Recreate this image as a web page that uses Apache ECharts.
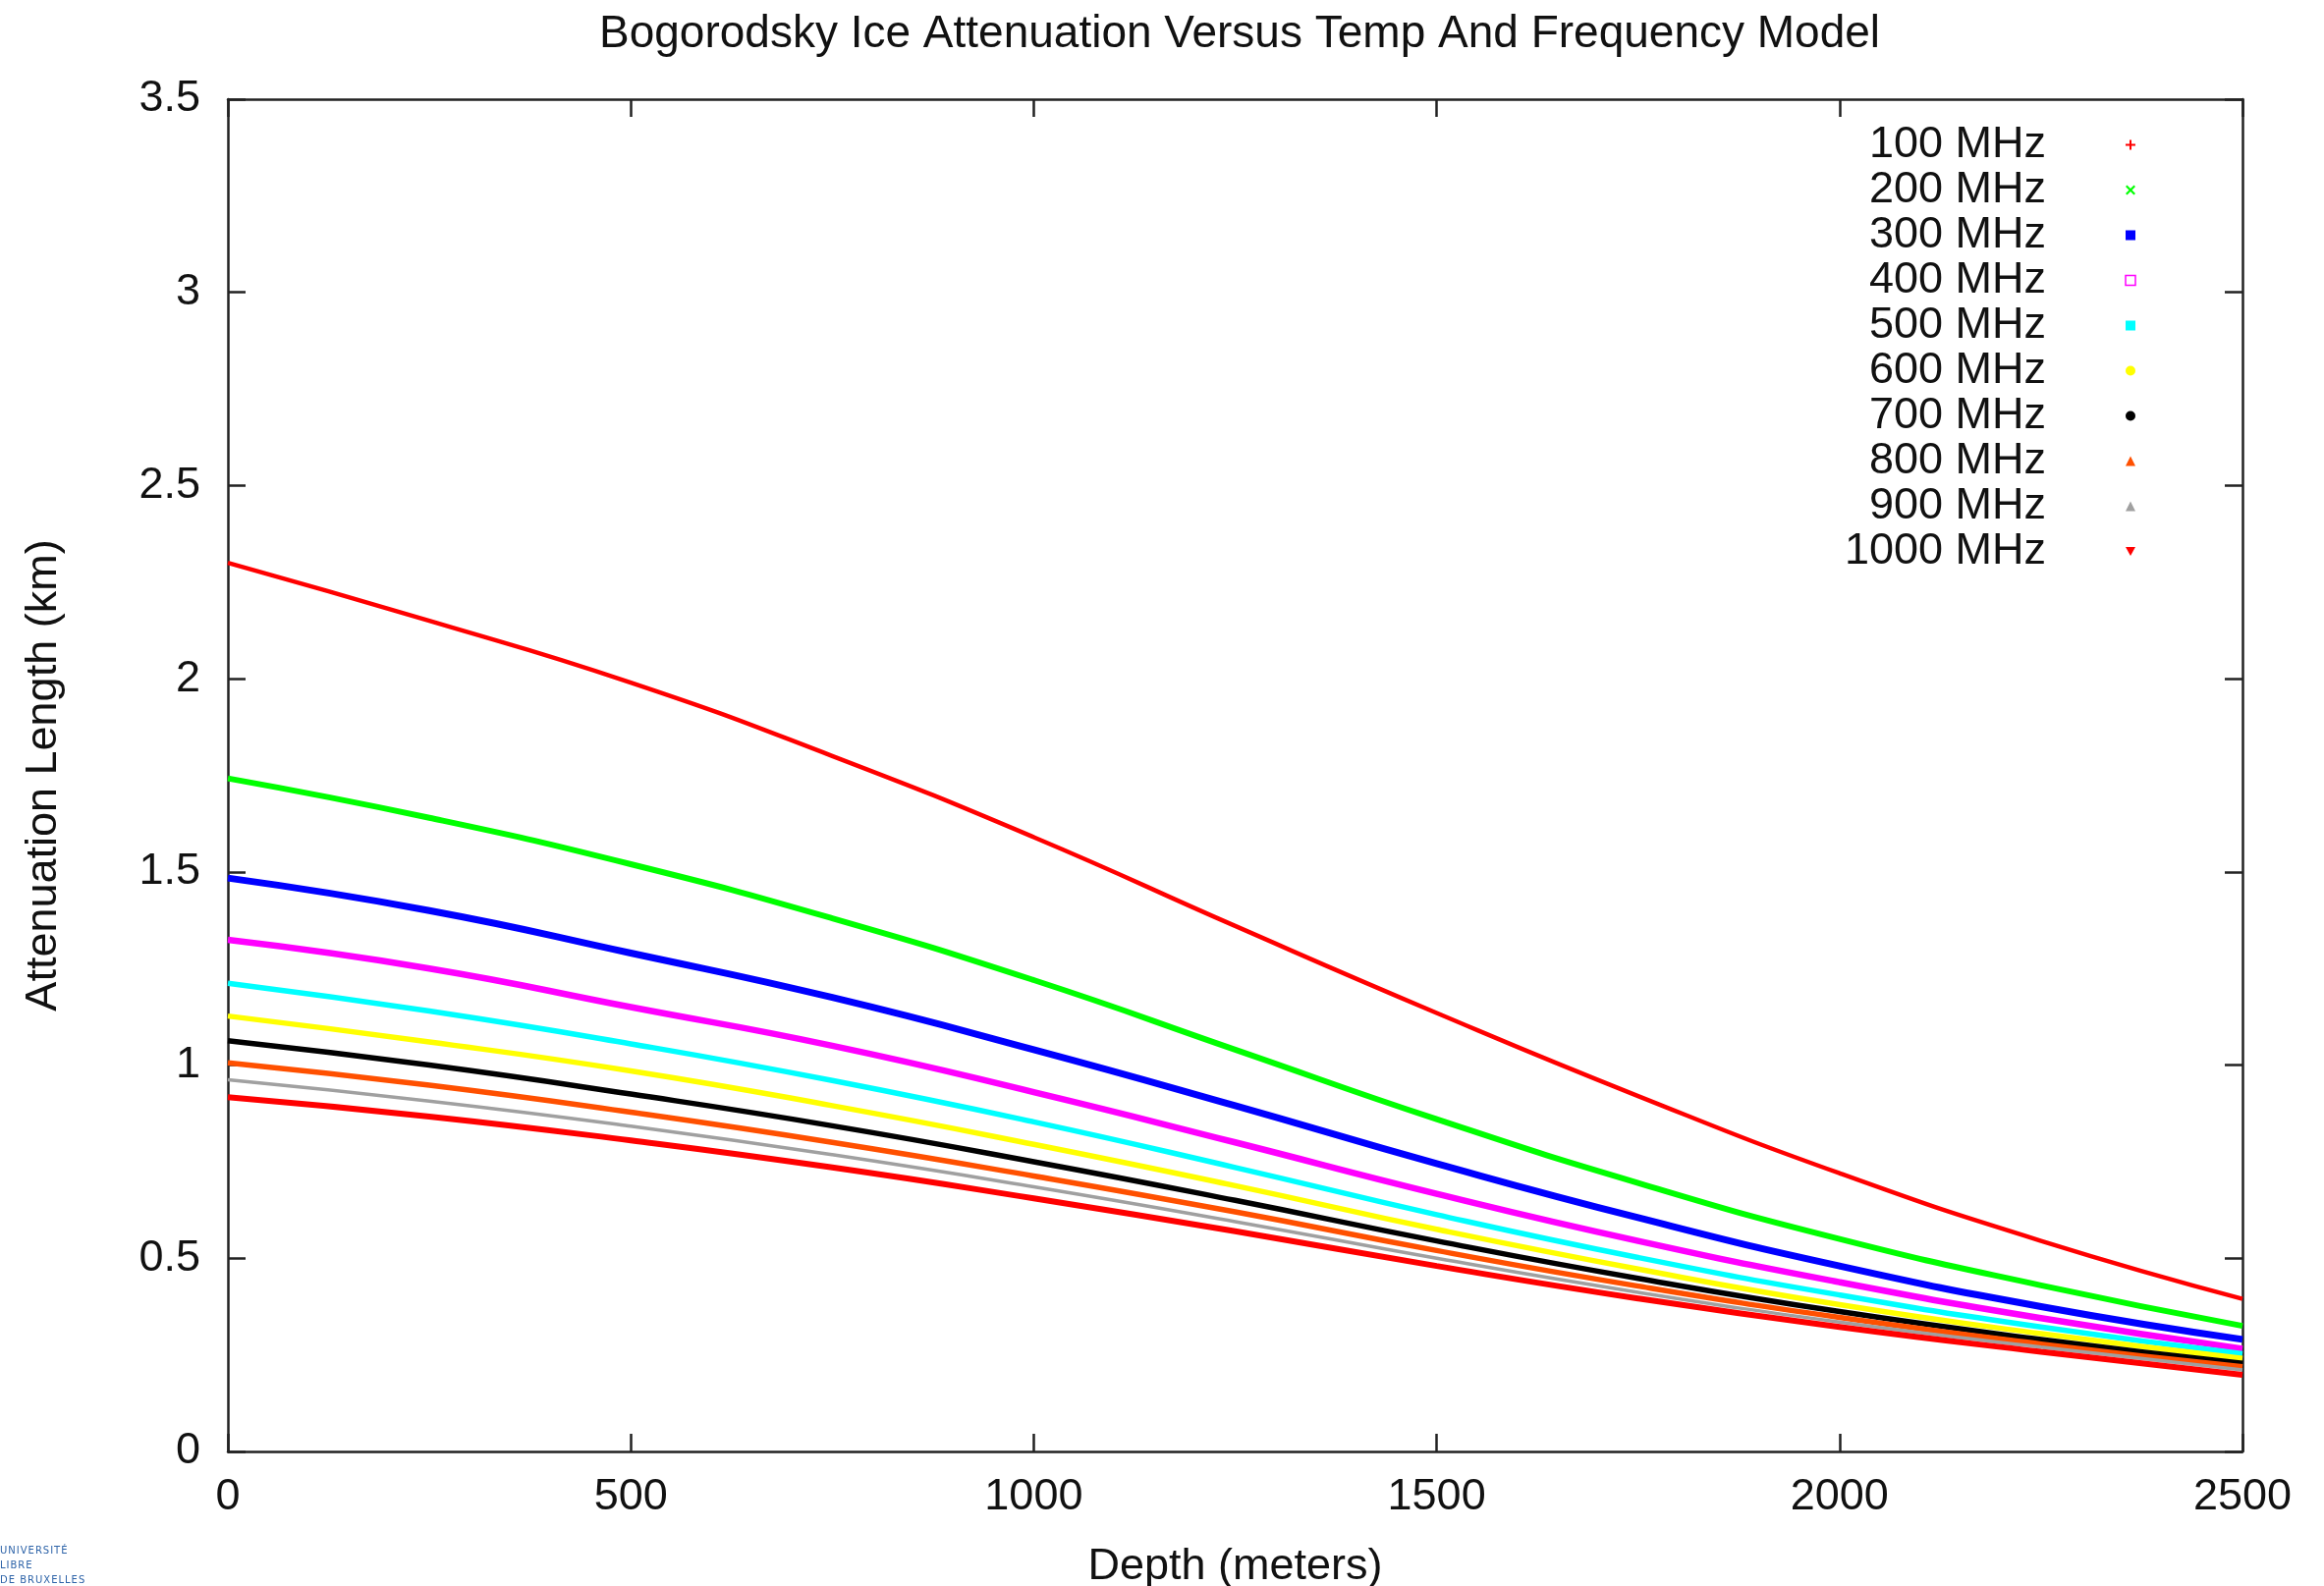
<!DOCTYPE html>
<html>
<head>
<meta charset="utf-8">
<title>Bogorodsky Ice Attenuation Versus Temp And Frequency Model</title>
<script src="https://cdn.jsdelivr.net/npm/echarts@6/dist/echarts.min.js"></script>
<style>
  html, body { margin: 0; padding: 0; background: #ffffff; }
  #chart { width: 2366px; height: 1615px; }
</style>
</head>
<body>
<div id="chart"></div>
<script>
// Depth samples (meters)
const depths = [0, 250, 500, 750, 1000, 1250, 1500, 1750, 2000, 2250, 2500];

// Attenuation length (km) per frequency
const att100  = [2.300, 2.150, 1.990, 1.800, 1.590, 1.360, 1.135, 0.920, 0.720, 0.545, 0.395];
const att200  = [1.742, 1.640, 1.520, 1.380, 1.220, 1.040, 0.860, 0.695, 0.550, 0.430, 0.325];
const att300  = [1.484, 1.400, 1.290, 1.175, 1.040, 0.895, 0.745, 0.605, 0.480, 0.375, 0.290];
const att400  = [1.324, 1.250, 1.150, 1.050, 0.930, 0.800, 0.667, 0.545, 0.438, 0.345, 0.266];
const att500  = [1.212, 1.140, 1.055, 0.960, 0.853, 0.735, 0.613, 0.502, 0.405, 0.322, 0.253];
const att600  = [1.127, 1.060, 0.985, 0.895, 0.795, 0.688, 0.575, 0.472, 0.380, 0.305, 0.241];
const att700  = [1.063, 1.000, 0.925, 0.843, 0.750, 0.650, 0.545, 0.448, 0.362, 0.290, 0.228];
const att800  = [1.006, 0.948, 0.878, 0.800, 0.713, 0.620, 0.520, 0.428, 0.347, 0.278, 0.219];
const att900  = [0.962, 0.907, 0.842, 0.768, 0.685, 0.595, 0.500, 0.412, 0.335, 0.270, 0.211];
const att1000 = [0.917, 0.867, 0.805, 0.735, 0.655, 0.570, 0.480, 0.396, 0.322, 0.258, 0.198];

const seriesNames = ['100 MHz', '200 MHz', '300 MHz', '400 MHz', '500 MHz',
                     '600 MHz', '700 MHz', '800 MHz', '900 MHz', '1000 MHz'];
const seriesValues = [att100, att200, att300, att400, att500,
                      att600, att700, att800, att900, att1000];

const yTicks = [0, 0.5, 1, 1.5, 2, 2.5, 3, 3.5];
const xTicks = [0, 500, 1000, 1500, 2000, 2500];

// Line styling (gnuplot-like palette)
const colors = ['#ff0000', '#00ff00', '#0000ff', '#ff00ff', '#00ffff',
                '#ffff00', '#000000', '#ff5000', '#a0a0a0', '#ff0000'];
const widths = [4.5, 6, 7, 6.5, 5.5, 5.5, 5.5, 5.5, 3.5, 6];

// Small point markers shown next to each key entry
const keyIcons = [
  {icon: 'path://M4,0H6V4H10V6H6V10H4V6H0V4H4Z', open: false},
  {icon: 'path://M0,1.5L1.5,0L5,3.5L8.5,0L10,1.5L6.5,5L10,8.5L8.5,10L5,6.5L1.5,10L0,8.5L3.5,5Z', open: false},
  {icon: 'rect', open: false},
  {icon: 'rect', open: true},
  {icon: 'rect', open: false},
  {icon: 'circle', open: false},
  {icon: 'circle', open: false},
  {icon: 'triangle', open: false},
  {icon: 'triangle', open: false},
  {icon: 'path://M0,0L10,0L5,9Z', open: false}
];

const FONT = '"Liberation Sans", Arial, Helvetica, sans-serif';
const FS = 45;

const series = seriesNames.map((name, i) => ({
  name: name,
  type: 'line',
  xAxisIndex: 0,
  yAxisIndex: 0,
  smooth: true,
  showSymbol: false,
  symbol: 'none',
  data: depths.map((d, j) => [d, seriesValues[i][j]]),
  lineStyle: { color: colors[i], width: widths[i] },
  itemStyle: { color: colors[i] },
  animation: false
}));

const legendData = seriesNames.map((name, i) => ({
  name: name,
  icon: keyIcons[i].icon,
  itemStyle: keyIcons[i].open
    ? { color: '#ffffff', borderColor: colors[i], borderWidth: 1.5 }
    : { color: colors[i], borderWidth: 0 }
}));

// Spread letters of the small footer wordmark
const spaced = s => s.split('').join('\u200A');

const axisLineStyle = { color: '#222222', width: 2.5 };
const tickStyle = { show: true, inside: true, length: 18, lineStyle: { color: '#222222', width: 2.5 } };

const option = {
  backgroundColor: '#ffffff',
  animation: false,
  textStyle: { fontFamily: FONT },
  title: {
    text: 'Bogorodsky Ice Attenuation Versus Temp And Frequency Model',
    left: 1257,
    textAlign: 'center',
    top: 7,
    textStyle: { fontFamily: FONT, fontSize: 46, fontWeight: 'normal', color: '#111111' }
  },
  grid: {
    left: 232, right: 83, top: 101, bottom: 137,
    containLabel: false,
    outerBoundsMode: 'none'
  },
  legend: {
    orient: 'vertical',
    left: 1853,
    top: 125,
    align: 'right',
    padding: 0,
    itemGap: 1,
    itemWidth: 10,
    itemHeight: 10,
    selectedMode: false,
    data: legendData,
    formatter: name => '{a|' + name + '}{g| }',
    textStyle: {
      fontFamily: FONT,
      fontSize: FS,
      color: '#111111',
      rich: {
        a: { width: 230, align: 'right', fontSize: FS, fontFamily: FONT, lineHeight: 47, color: '#111111' },
        g: { width: 76, fontSize: FS, lineHeight: 47 }
      }
    }
  },
  xAxis: [
    {
      type: 'value', position: 'bottom', min: 0, max: 2500, interval: 500,
      name: 'Depth (meters)', nameLocation: 'middle', nameGap: 95,
      nameTextStyle: { fontFamily: FONT, fontSize: FS, color: '#111111' },
      axisLine: { show: true, onZero: false, lineStyle: axisLineStyle },
      axisTick: tickStyle,
      axisLabel: {
        fontFamily: FONT, fontSize: FS, color: '#111111', margin: 24,
        formatter: v => String(xTicks.find(t => Math.abs(t - v) < 1e-6) ?? v)
      },
      splitLine: { show: false }
    },
    {
      type: 'value', position: 'top', min: 0, max: 2500, interval: 500,
      axisLine: { show: true, onZero: false, lineStyle: axisLineStyle },
      axisTick: tickStyle,
      axisLabel: { show: false },
      splitLine: { show: false }
    }
  ],
  yAxis: [
    {
      type: 'value', position: 'left', min: 0, max: 3.5, interval: 0.5,
      name: 'Attenuation Length (km)', nameLocation: 'middle', nameGap: 165,
      nameTextStyle: { fontFamily: FONT, fontSize: FS, color: '#111111' },
      axisLine: { show: true, onZero: false, lineStyle: axisLineStyle },
      axisTick: tickStyle,
      axisLabel: {
        fontFamily: FONT, fontSize: FS, color: '#111111', margin: 28,
        formatter: v => String(yTicks.find(t => Math.abs(t - v) < 1e-9) ?? v)
      },
      splitLine: { show: false }
    },
    {
      type: 'value', position: 'right', min: 0, max: 3.5, interval: 0.5,
      axisLine: { show: true, onZero: false, lineStyle: axisLineStyle },
      axisTick: tickStyle,
      axisLabel: { show: false },
      splitLine: { show: false }
    }
  ],
  graphic: [
    {
      type: 'text', left: 0, top: 1572, z: 10,
      style: { text: [spaced('UNIVERSITÉ'), spaced('LIBRE'), spaced('DE BRUXELLES')].join('\n'),
               fontFamily: '"DejaVu Sans", sans-serif',
               fontSize: 10, lineHeight: 15, fill: '#2d63a8' }
    }
  ],
  series: series
};

const chart = echarts.init(document.getElementById('chart'), null, { renderer: 'canvas' });
chart.setOption(option);
</script>
</body>
</html>
